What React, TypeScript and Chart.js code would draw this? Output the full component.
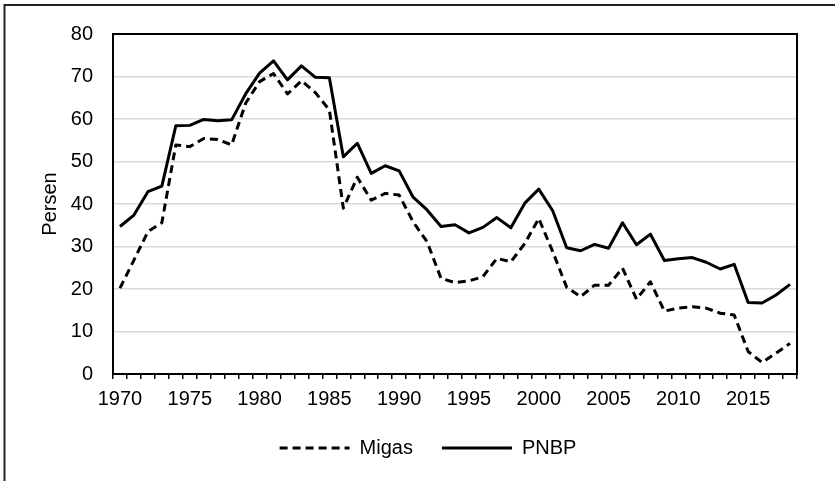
import React, { useEffect, useRef } from 'react';
import { Chart, registerables } from 'chart.js';

Chart.register(...registerables);

const years = [
  '1970', '1971', '1972', '1973', '1974', '1975', '1976', '1977', '1978', '1979',
  '1980', '1981', '1982', '1983', '1984', '1985', '1986', '1987', '1988', '1989',
  '1990', '1991', '1992', '1993', '1994', '1995', '1996', '1997', '1998', '1999',
  '2000', '2001', '2002', '2003', '2004', '2005', '2006', '2007', '2008', '2009',
  '2010', '2011', '2012', '2013', '2014', '2015', '2016', '2017', '2018',
];

const xTickLabels = ['1970', '1975', '1980', '1985', '1990', '1995', '2000', '2005', '2010', '2015'];

const migas = [
  20.2, 26.8, 33.5, 35.6, 53.9, 53.5, 55.4, 55.2, 53.9, 63.7,
  68.8, 70.7, 65.9, 69.0, 66.2, 62.1, 39.0, 46.3, 40.9, 42.5,
  42.1, 35.8, 31.1, 22.5, 21.5, 21.9, 22.9, 27.2, 26.4, 30.7,
  36.6, 28.8, 20.4, 18.2, 20.9, 20.9, 24.9, 17.6, 21.7, 14.8,
  15.5, 15.8, 15.5, 14.3, 13.9, 5.3, 2.7, 4.9, 7.2,
];

const pnbp = [
  34.7, 37.4, 42.9, 44.2, 58.4, 58.5, 59.9, 59.6, 59.8, 65.9,
  70.8, 73.7, 69.2, 72.5, 69.8, 69.7, 51.1, 54.3, 47.2, 49.0,
  47.8, 41.6, 38.6, 34.7, 35.1, 33.2, 34.5, 36.8, 34.4, 40.2,
  43.5, 38.4, 29.7, 29.0, 30.5, 29.6, 35.6, 30.4, 32.9, 26.7,
  27.1, 27.4, 26.3, 24.7, 25.8, 16.8, 16.7, 18.6, 21.1,
];

const seriesNames = ['Migas', 'PNBP'];
const yAxisTitle = 'Persen';

const FONT = "'Liberation Sans', Arial, Helvetica, sans-serif";

const framePlugin = {
  id: 'frameAndPlotBorder',
  beforeDraw(chart: any) {
    const ctx = chart.ctx;
    ctx.save();
    ctx.fillStyle = '#ffffff';
    ctx.fillRect(0, 0, chart.width, chart.height);
    ctx.strokeStyle = '#222222';
    ctx.lineWidth = 2;
    ctx.strokeRect(4.5, 5, chart.width + 50, chart.height + 50);
    ctx.restore();
  },
  beforeDatasetsDraw(chart: any) {
    const { ctx, chartArea } = chart;
    ctx.save();
    ctx.strokeStyle = '#000000';
    ctx.lineWidth = 2;
    ctx.strokeRect(
      chartArea.left,
      chartArea.top,
      chartArea.right - chartArea.left,
      chartArea.bottom - chartArea.top
    );
    ctx.restore();
  },
};

export default function App() {
  const canvasRef = useRef<HTMLCanvasElement | null>(null);

  useEffect(() => {
    const canvas = canvasRef.current;
    if (!canvas) return;
    const chart = new Chart(canvas, {
      type: 'line',
      data: {
        labels: years,
        datasets: [
          {
            label: seriesNames[0],
            data: migas,
            borderColor: '#000000',
            backgroundColor: '#000000',
            borderWidth: 3,
            borderDash: [8, 5],
            borderCapStyle: 'butt',
            borderJoinStyle: 'round',
            pointRadius: 0,
            pointHoverRadius: 0,
            fill: false,
            tension: 0,
          },
          {
            label: seriesNames[1],
            data: pnbp,
            borderColor: '#000000',
            backgroundColor: '#000000',
            borderWidth: 3,
            borderCapStyle: 'butt',
            borderJoinStyle: 'round',
            pointRadius: 0,
            pointHoverRadius: 0,
            fill: false,
            tension: 0,
          },
        ],
      },
      options: {
        responsive: false,
        animation: false,
        devicePixelRatio: 1,
        events: [],
        layout: { padding: { left: 59, right: 38, top: 34, bottom: 13 } },
        plugins: {
          legend: {
            position: 'bottom',
            labels: {
              usePointStyle: true,
              pointStyle: 'line',
              pointStyleWidth: 70,
              padding: 29,
              color: '#000000',
              font: { family: FONT, size: 20 },
              generateLabels: (c: any) => {
                const items = Chart.defaults.plugins.legend.labels.generateLabels(c);
                items.forEach((it: any) => {
                  const ds: any = c.data.datasets[it.datasetIndex];
                  it.lineDash = ds.borderDash || [];
                  it.lineWidth = ds.borderWidth;
                  it.strokeStyle = ds.borderColor;
                  it.fillStyle = ds.borderColor;
                  it.lineCap = 'butt';
                  it.pointStyle = 'line';
                });
                return items;
              },
            },
          },
          tooltip: { enabled: false },
        },
        scales: {
          x: {
            type: 'category',
            offset: true,
            grid: {
              offset: true,
              drawOnChartArea: false,
              drawTicks: true,
              tickLength: 5,
              color: '#000000',
              lineWidth: 1.5,
            },
            border: { display: false },
            ticks: {
              autoSkip: false,
              maxRotation: 0,
              minRotation: 0,
              padding: 8,
              color: '#000000',
              font: { family: FONT, size: 20 },
              callback: (_v: any, i: number) => (xTickLabels.includes(years[i]) ? years[i] : ''),
            },
            afterFit: (s: any) => {
              s.height = 35;
            },
          },
          y: {
            min: 0,
            max: 80,
            ticks: {
              stepSize: 10,
              padding: 20,
              color: '#000000',
              font: { family: FONT, size: 20 },
            },
            grid: { color: '#d9d9d9', lineWidth: 1.5, drawTicks: false },
            border: { display: false },
            title: {
              display: true,
              text: yAxisTitle,
              color: '#000000',
              font: { family: FONT, size: 20 },
              padding: { top: -20.5, bottom: 0 },
            },
            afterFit: (s: any) => {
              s.width = 54;
            },
          },
        },
      },
      plugins: [framePlugin],
    } as any);
    return () => chart.destroy();
  }, []);

  return (
    <div style={{ position: 'fixed', left: 0, top: 0, width: 835, height: 481, background: '#fff' }}>
      <canvas ref={canvasRef} width={835} height={481} style={{ display: 'block', width: 835, height: 481 }} />
    </div>
  );
}
